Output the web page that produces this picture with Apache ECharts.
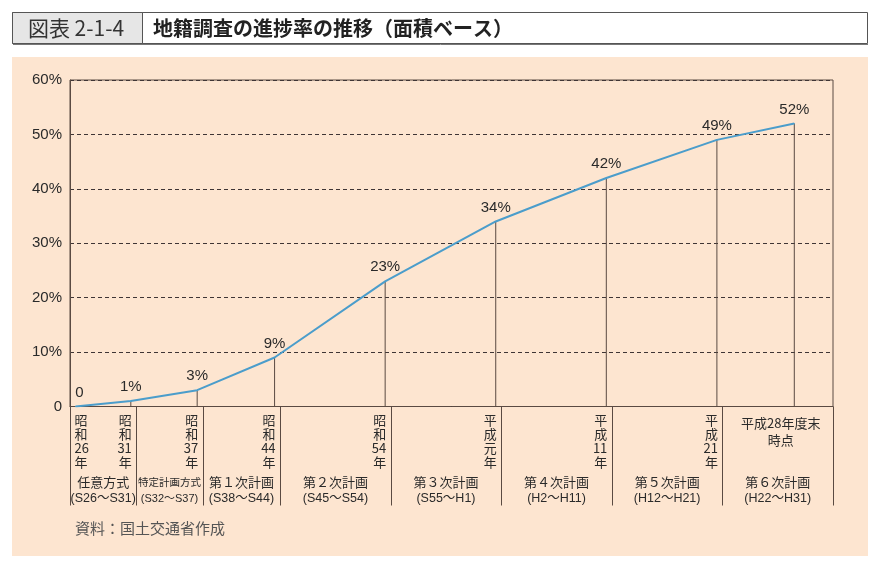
<!DOCTYPE html>
<html><head><meta charset="utf-8">
<script src="https://cdn.jsdelivr.net/npm/echarts@6/dist/echarts.min.js"></script>
<style>html,body{margin:0;padding:0;background:#fff}#c{width:885px;height:570px}</style>
</head><body><div id="c"></div>
<script>
const years = [1951, 1956, 1962, 1969, 1979, 1989, 1999, 2009, 2016];
const rates = [0, 1, 3, 9, 23, 34, 42, 49, 52];
const rateLabels = ['0', '1%', '3%', '9%', '23%', '34%', '42%', '49%', '52%'];
const yTicks = [0, 10, 20, 30, 40, 50, 60];
const yearLabels = ['昭\n和\n26\n年', '昭\n和\n31\n年', '昭\n和\n37\n年', '昭\n和\n44\n年', '昭\n和\n54\n年', '平\n成\n元\n年', '平\n成\n11\n年', '平\n成\n21\n年', '平成28年度末\n時点'];
const periodBounds = [1950.5, 1956.5, 1962.5, 1969.5, 1979.5, 1989.5, 1999.5, 2009.5, 2019.5];
const periodNames = ['任意方式', '特定計画方式', '第１次計画', '第２次計画', '第３次計画', '第４次計画', '第５次計画', '第６次計画'];
const periodRanges = ['(S26～S31)', '(S32～S37)', '(S38～S44)', '(S45～S54)', '(S55～H1)', '(H2～H11)', '(H12～H21)', '(H22～H31)'];
const titleNo = '図表 2-1-4';
const titleText = '地籍調査の進捗率の推移（面積ベース）';
const sourceText = '資料：国土交通省作成';

const FF = "'Liberation Sans','Noto Sans CJK JP',sans-serif";
const JF = "'Noto Sans CJK JP','Liberation Sans',sans-serif";
const AX = '#5a4a42';
const TXT = '#2a2a2a';
const LINE = '#4b9dcb';

const chart = echarts.init(document.getElementById('c'), null, {renderer: 'canvas'});
const pts = years.map((y, i) => [y, rates[i]]);
const linePts = pts.map((p, i) => i === 0 ? {value: p, label: {offset: [4, 0]}} : {value: p});

chart.setOption({
  animation: false,
  backgroundColor: '#ffffff',
  grid: {left: 70, right: 52, top: 80, bottom: 163.5, show: true, borderColor: AX, borderWidth: 1, backgroundColor: 'transparent'},
  xAxis: {
    type: 'value', min: periodBounds[0], max: periodBounds[periodBounds.length - 1],
    axisLabel: {show: false}, axisTick: {show: false}, splitLine: {show: false},
    axisLine: {show: true, lineStyle: {color: AX, width: 1}}
  },
  yAxis: {
    type: 'value', min: yTicks[0], max: yTicks[yTicks.length - 1], interval: 10,
    axisLabel: {formatter: v => v === 0 ? '0' : v + '%', color: TXT, fontSize: 15, fontFamily: FF, margin: 8},
    axisTick: {show: false},
    axisLine: {show: true, lineStyle: {color: AX, width: 1}},
    splitLine: {show: true, lineStyle: {color: '#3f3535', width: 1, type: [4, 3]}}
  },
  series: [
    {
      type: 'bar', data: pts.slice(1), barWidth: 1, z: 1, silent: true,
      itemStyle: {color: AX}
    },
    {
      type: 'line', data: linePts, z: 3, symbol: 'circle', symbolSize: 1, showSymbol: true, silent: true,
      lineStyle: {color: LINE, width: 2},
      itemStyle: {color: LINE},
      label: {
        show: true, position: 'top', distance: 6, color: TXT, opacity: 1, fontSize: 15, fontFamily: FF,
        textBorderWidth: 0,
        formatter: p => rateLabels[p.dataIndex]
      }
    }
  ]
});

function px(v) { return chart.convertToPixel({xAxisIndex: 0}, v); }
function py(v) { return chart.convertToPixel({yAxisIndex: 0}, v); }

const y0 = py(0);
const g = [];
g.push({type: 'rect', z: -100, shape: {x: 12, y: 57, width: 856, height: 499}, style: {fill: '#fde5d0'}});
g.push({type: 'rect', z: 10, shape: {x: 12.5, y: 12.5, width: 855, height: 31}, style: {fill: '#ffffff', stroke: '#555', lineWidth: 1}});
g.push({type: 'rect', z: 11, shape: {x: 12.5, y: 12.5, width: 130, height: 31}, style: {fill: '#e6e6e6', stroke: '#555', lineWidth: 1}});
g.push({type: 'line', z: 11, shape: {x1: 13, y1: 44.5, x2: 868, y2: 44.5}, style: {stroke: '#777', lineWidth: 1}});
g.push({type: 'text', z: 12, style: {text: titleNo, x: 76, y: 28.5, textAlign: 'center', textVerticalAlign: 'middle', font: '21px ' + JF, fill: '#333'}});
g.push({type: 'text', z: 12, style: {text: titleText, x: 153, y: 28.5, textAlign: 'left', textVerticalAlign: 'middle', font: 'bold 20px ' + JF, fill: '#222'}});

periodBounds.forEach(b => {
  const x = Math.round(px(b)) + 0.5;
  g.push({type: 'line', z: 5, shape: {x1: x, y1: y0, x2: x, y2: y0 + 99}, style: {stroke: AX, lineWidth: 1}});
});

yearLabels.forEach((t, i) => {
  const x = px(years[i]);
  if (i === 0) {
    g.push({type: 'text', z: 6, style: {text: t, x: x - 1, y: y0 + 7, textAlign: 'left', textVerticalAlign: 'top', font: '13px ' + JF, lineHeight: 13.8, fill: TXT}});
  } else if (i === yearLabels.length - 1) {
    const cx = (px(periodBounds[7]) + px(periodBounds[8])) / 2 + 3;
    g.push({type: 'text', z: 6, style: {text: t, x: cx, y: y0 + 8, textAlign: 'center', textVerticalAlign: 'top', font: '13px ' + JF, lineHeight: 17, fill: TXT}});
  } else {
    g.push({type: 'text', z: 6, style: {text: t, x: x + 1, y: y0 + 7, textAlign: 'right', textVerticalAlign: 'top', font: '13px ' + JF, lineHeight: 13.8, fill: TXT}});
  }
});

periodNames.forEach((n, i) => {
  const cx = (px(periodBounds[i]) + px(periodBounds[i + 1])) / 2;
  const fs = i === 1 ? 10.5 : 13;
  g.push({type: 'text', z: 6, style: {text: n, x: cx, y: y0 + 75.5, textAlign: 'center', textVerticalAlign: 'middle', font: fs + 'px ' + JF, fill: TXT}});
  g.push({type: 'text', z: 6, style: {text: periodRanges[i], x: cx, y: y0 + 92.5, textAlign: 'center', textVerticalAlign: 'middle', font: (i === 1 ? 11 : 12.5) + 'px ' + FF, fill: TXT}});
});

g.push({type: 'text', z: 6, style: {text: sourceText, x: 75, y: 528, textAlign: 'left', textVerticalAlign: 'middle', font: '15px ' + JF, fill: '#555'}});

chart.setOption({graphic: g});
</script>
</body></html>
